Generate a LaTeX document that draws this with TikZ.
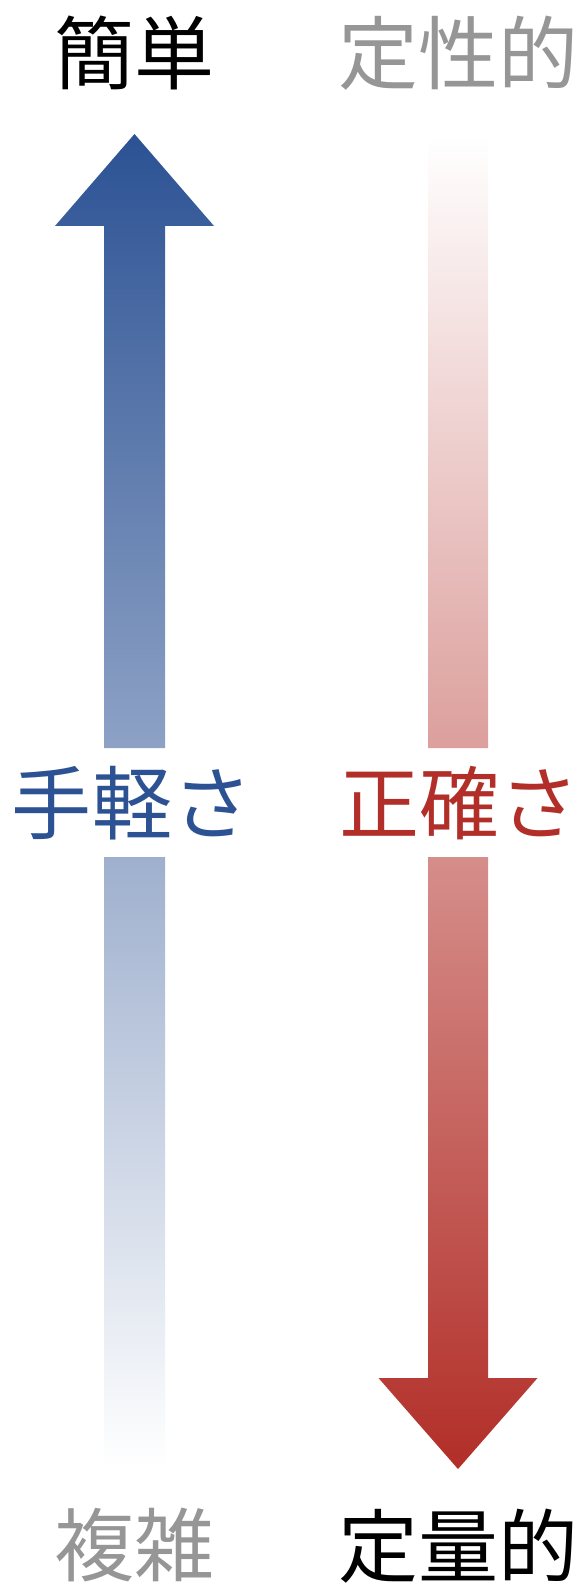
\documentclass[tikz,border=0pt]{standalone}
\usepackage{fontspec}
\newfontfamily\jp{Noto Sans CJK JP}
\definecolor{arrowblue}{RGB}{44,82,148}
\definecolor{arrowred}{RGB}{178,46,40}
\definecolor{labelgray}{RGB}{150,150,150}
\tikzset{
  bigtext/.style={inner sep=0pt, anchor=base, font=\jp\fontsize{80}{96}\selectfont},
}
\begin{document}
\begin{tikzpicture}[x=1pt,y=-1pt]
\useasboundingbox (0,0) rectangle (578,1586);
\fill[white] (0,0) rectangle (578,1586);
% blue arrow (up), continuous gradient across both parts
\shade[top color=arrowblue, bottom color=white]
  (134.5,134) -- (214,226) -- (165,226) -- (165,748) -- (104,748) -- (104,226) -- (55,226) -- cycle
  (104,857) rectangle (165,1466);
% red arrow (down)
\shade[top color=white, bottom color=arrowred]
  (428,136) rectangle (488,748)
  (428,857) -- (488,857) -- (488,1378) -- (537.5,1378) -- (458,1469) -- (378.5,1378) -- (428,1378) -- cycle;
% texts
\node[bigtext, text=black] (simple) at (134,83.5) {簡単};
\node[bigtext, text=labelgray] (qualitative) at (458,83.5) {定性的};
\node[bigtext, text=arrowblue] (ease) at (132,833) {手軽さ};
\node[bigtext, text=arrowred] (accuracy) at (459,833) {正確さ};
\node[bigtext, text=labelgray] (complex) at (134,1575) {複雑};
\node[bigtext, text=black] (quantitative) at (458,1576) {定量的};
\end{tikzpicture}
\end{document}
